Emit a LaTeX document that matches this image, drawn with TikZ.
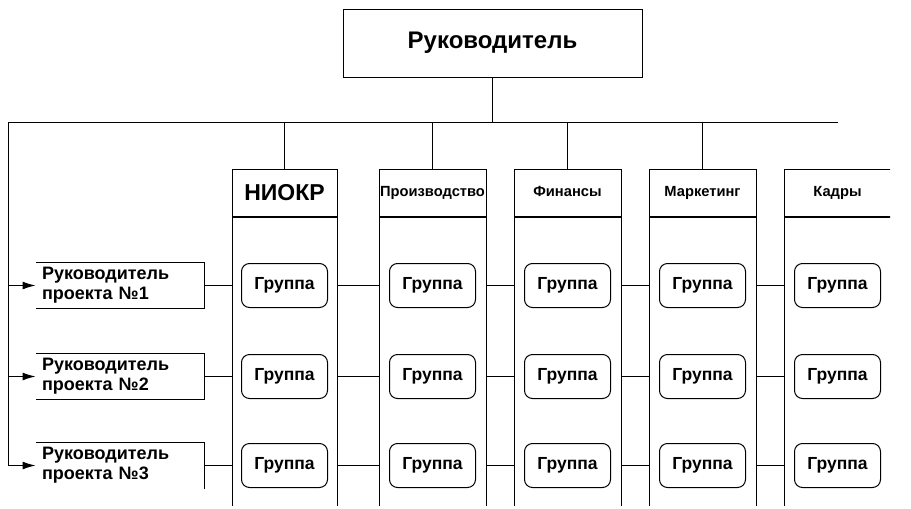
\documentclass[tikz,border=0pt]{standalone}
\usepackage{fontspec}
\setmainfont{Liberation Sans}
\usetikzlibrary{arrows.meta}

\tikzset{
  boss/.style={draw, minimum width=299, minimum height=68, font=\fontsize{24}{28}\selectfont\bfseries},
  head/.style={draw, minimum height=47, inner sep=0pt, text height=10.5pt, text depth=3pt, font=\fontsize{14.7}{16}\selectfont\bfseries},
  bighead/.style={head, text height=16.5pt, text depth=0pt, font=\fontsize{23}{26}\selectfont\bfseries},
  body/.style={draw, anchor=north, minimum height=320},
  mgr/.style={text width=156pt, inner xsep=6pt, inner ysep=0pt, minimum height=45, align=left, font=\fontsize{18}{20}\selectfont\bfseries},
  grp/.style={draw, rounded corners=8pt, minimum width=86, minimum height=44, font=\fontsize{17.5}{19}\selectfont\bfseries},
  link/.style={-{Latex[length=13pt,width=8pt]}},
}

\begin{document}
\begin{tikzpicture}[x=1pt, y=-1pt, line width=1pt]
  \useasboundingbox (0,0) rectangle (911,509);
  \clip (0,0) rectangle (890,505);
  \node[boss] (boss) at (492.5,43) {Руководитель};
  \coordinate (busL) at (8,122);
  \coordinate (busR) at (838,122);
  \foreach \i/\x/\w/\st/\txt in {
    1/284.5/105/bighead/НИОКР,
    2/432.5/107/head/Производство,
    3/567.5/107/head/Финансы,
    4/702.5/107/head/Маркетинг,
    5/837.5/107/head/Кадры} {
    \node[\st, minimum width=\w] (h\i) at (\x,192.5) {\txt};
    \node[body, minimum width=\w] (col\i) at (h\i.south) {};
  }
  \foreach \r/\y in {1/285.5, 2/376.5, 3/465.5} {
    \node[mgr] (m\r) at (120,\y) {Руководитель\\проекта №\r};
    \foreach \i in {1,...,5}
      \node[grp] (g\i\r) at (col\i |- m\r) {Группа};
  }
  \draw (boss) -- (boss |- busL);
  \draw (busR) -- (busL) -- (busL |- m3);
  \foreach \i in {1,...,4}
    \draw (h\i) -- (h\i |- busL);
  \foreach \r in {1,2,3} {
    \draw[link] (busL |- m\r) -- (m\r.west);
    \draw (m\r.east) -- (col1.west |- m\r);
    \foreach \i/\j in {1/2, 2/3, 3/4, 4/5}
      \draw (col\i.east |- m\r) -- (col\j.west |- m\r);
  }
  \foreach \r in {1,2}
    \draw (m\r.north west) -- (m\r.north east) -- (m\r.south east) -- (m\r.south west);
  \draw (m3.north west) -- (m3.north east) -- (m3.south east);
\end{tikzpicture}
\end{document}
